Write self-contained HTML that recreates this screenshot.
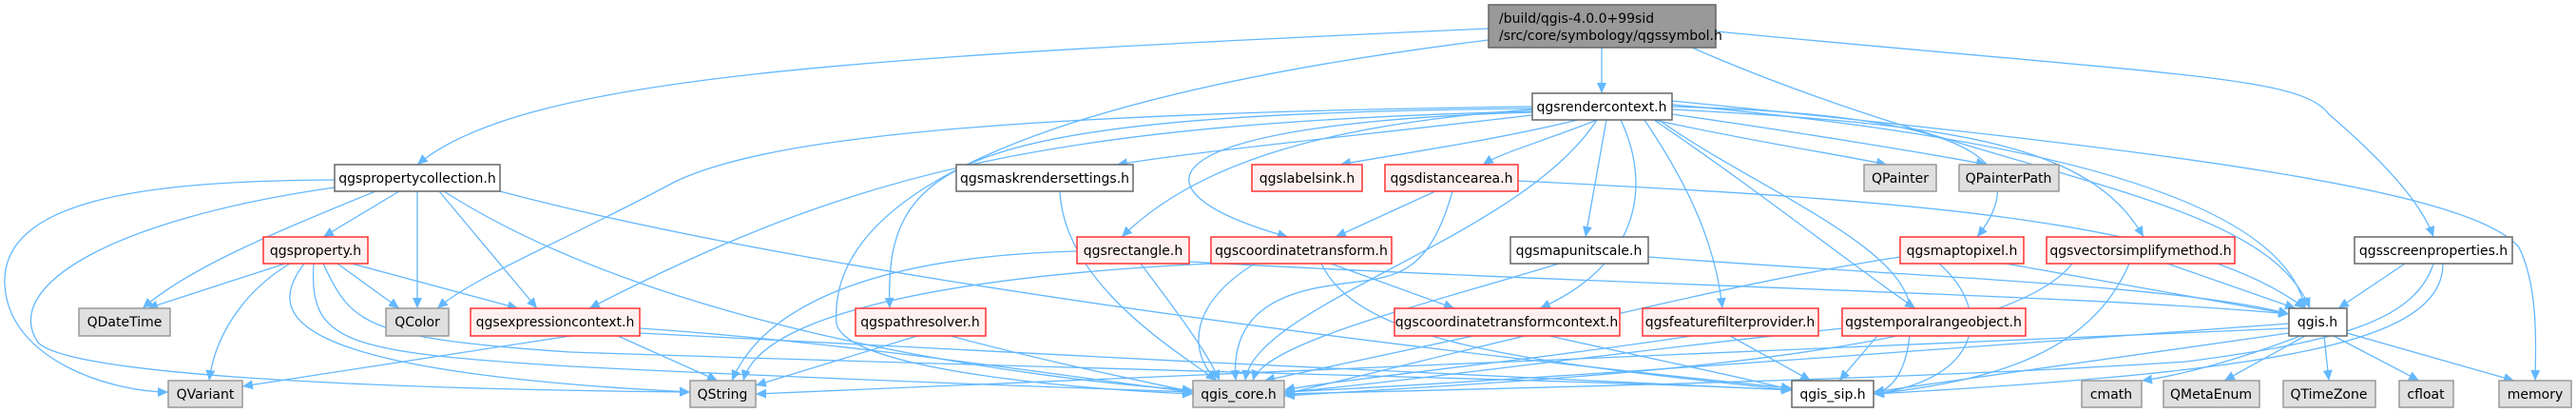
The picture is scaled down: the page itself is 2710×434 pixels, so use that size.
<!DOCTYPE html>
<html><head><meta charset="utf-8"><style>
html,body{margin:0;padding:0;background:#fff;width:2710px;height:434px;overflow:hidden}
svg{display:block}
text{font-family:"DejaVu Sans","Liberation Sans",sans-serif;font-size:14px;fill:#000}
.e path{fill:none;stroke:#63b8ff;stroke-width:1.3}
.w{fill:#fff;stroke:#666;stroke-width:1.5}
.r{fill:#fff0f0;stroke:#ff3333;stroke-width:1.5}
.g{fill:#e0e0e0;stroke:#999;stroke-width:1.5}
.m{fill:#999;stroke:#666;stroke-width:1.5}
</style></head><body>
<svg width="2710" height="434" viewBox="0 0 2710 434" xmlns="http://www.w3.org/2000/svg">
<defs><marker id="a" markerUnits="userSpaceOnUse" markerWidth="12" markerHeight="10" refX="11" refY="5" orient="auto"><path d="M0,0 L11,5 L0,10 z" fill="#63b8ff"/></marker></defs>
<g class="e" marker-end="url(#a)">
<path d="M1685 50 L1685 98" marker-end="url(#a)"/>
<path d="M1566 30 C900 60 550 80 439 173" marker-end="url(#a)"/>
<path d="M1566 42 C1100 100 870 200 880 340 C890 390 1150 410 1255 414" marker-end="url(#a)"/>
<path d="M1805 33 C2300 80 2420 80 2450 120 C2520 180 2550 220 2560 249" marker-end="url(#a)"/>
<path d="M1780 50 C2100 190 2380 200 2430 324" marker-end="url(#a)"/>
<path d="M1612 121 C1450 140 1250 160 1175 173" marker-end="url(#a)"/>
<path d="M1660 126 C1560 150 1450 165 1410 173" marker-end="url(#a)"/>
<path d="M1680 126 C1620 150 1580 160 1560 173" marker-end="url(#a)"/>
<path d="M1740 126 C1850 150 1950 165 1985 173" marker-end="url(#a)"/>
<path d="M1759 120 C1900 140 2050 165 2090 173" marker-end="url(#a)"/>
<path d="M1612 115 C1400 130 1260 170 1180 249" marker-end="url(#a)"/>
<path d="M1612 118 C1200 130 1180 200 1355 249" marker-end="url(#a)"/>
<path d="M1690 126 L1668 249" marker-end="url(#a)"/>
<path d="M1759 112 C2050 120 2150 160 2080 249" marker-end="url(#a)"/>
<path d="M1759 115 C2050 130 2200 150 2255 249" marker-end="url(#a)"/>
<path d="M1705 126 C1740 200 1720 280 1620 324" marker-end="url(#a)"/>
<path d="M1730 126 C1780 200 1805 260 1812 324" marker-end="url(#a)"/>
<path d="M1740 126 C1850 200 1950 280 2015 324" marker-end="url(#a)"/>
<path d="M1612 114 C1000 120 930 170 936 324" marker-end="url(#a)"/>
<path d="M1612 112 C1000 120 800 150 712 190 C600 250 500 290 460 324" marker-end="url(#a)"/>
<path d="M1612 117 C1100 130 900 180 620 324" marker-end="url(#a)"/>
<path d="M1680 126 C1600 250 1320 320 1310 400" marker-end="url(#a)"/>
<path d="M1745 126 C1850 200 2010 260 2010 330 C2010 390 1990 410 1971 414" marker-end="url(#a)"/>
<path d="M1759 110 C2100 140 2400 200 2425 324" marker-end="url(#a)"/>
<path d="M1759 106 C2300 160 2600 200 2650 260 C2670 300 2668 360 2667 400" marker-end="url(#a)"/>
<path d="M420 201 L340 249" marker-end="url(#a)"/>
<path d="M395 201 C300 240 200 280 150 324" marker-end="url(#a)"/>
<path d="M439 201 L439 324" marker-end="url(#a)"/>
<path d="M462 201 L565 324" marker-end="url(#a)"/>
<path d="M352 189 C150 190 0 210 5 300 C10 380 120 412 177 412" marker-end="url(#a)"/>
<path d="M352 197 C120 230 0 300 40 360 C80 400 500 410 726 412" marker-end="url(#a)"/>
<path d="M467 201 C700 350 1100 400 1255 410" marker-end="url(#a)"/>
<path d="M526 201 C900 300 1600 380 1885 408" marker-end="url(#a)"/>
<path d="M300 277 L155 324" marker-end="url(#a)"/>
<path d="M355 277 L420 324" marker-end="url(#a)"/>
<path d="M370 277 L545 324" marker-end="url(#a)"/>
<path d="M305 277 C250 310 225 360 220 400" marker-end="url(#a)"/>
<path d="M320 277 C280 330 290 390 726 412" marker-end="url(#a)"/>
<path d="M330 277 C325 360 360 370 600 385 C900 400 1200 410 1255 412" marker-end="url(#a)"/>
<path d="M340 277 C370 340 380 355 600 370 C1200 390 1700 400 1885 410" marker-end="url(#a)"/>
<path d="M600 353 L255 406" marker-end="url(#a)"/>
<path d="M650 353 L755 400" marker-end="url(#a)"/>
<path d="M673 345 C900 360 1150 400 1255 412" marker-end="url(#a)"/>
<path d="M673 350 C1000 370 1600 395 1885 410" marker-end="url(#a)"/>
<path d="M1115 201 C1120 300 1240 370 1280 400" marker-end="url(#a)"/>
<path d="M1510 201 L1405 249" marker-end="url(#a)"/>
<path d="M1528 201 C1500 300 1460 290 1400 300 C1330 310 1295 340 1300 400" marker-end="url(#a)"/>
<path d="M1597 190 C2000 210 2300 230 2425 324" marker-end="url(#a)"/>
<path d="M1133 264 C900 270 800 330 770 400" marker-end="url(#a)"/>
<path d="M1200 277 C1240 330 1270 370 1283 400" marker-end="url(#a)"/>
<path d="M1251 275 C1700 300 2200 310 2408 330" marker-end="url(#a)"/>
<path d="M1274 277 C1000 290 800 330 782 400" marker-end="url(#a)"/>
<path d="M1320 277 C1250 320 1250 370 1280 400" marker-end="url(#a)"/>
<path d="M1400 277 L1530 324" marker-end="url(#a)"/>
<path d="M1390 277 C1430 360 1600 380 1885 410" marker-end="url(#a)"/>
<path d="M1640 277 C1500 320 1330 360 1318 400" marker-end="url(#a)"/>
<path d="M1734 270 C2000 290 2300 300 2408 330" marker-end="url(#a)"/>
<path d="M965 353 L795 405" marker-end="url(#a)"/>
<path d="M1000 353 C1100 380 1200 400 1255 412" marker-end="url(#a)"/>
<path d="M1550 353 L1330 400" marker-end="url(#a)"/>
<path d="M1630 353 C1750 380 1850 400 1885 410" marker-end="url(#a)"/>
<path d="M1780 353 C1600 380 1400 400 1351 410" marker-end="url(#a)"/>
<path d="M1820 353 L1905 400" marker-end="url(#a)"/>
<path d="M1938 345 C1700 370 1450 405 1351 412" marker-end="url(#a)"/>
<path d="M1975 353 L1935 400" marker-end="url(#a)"/>
<path d="M1999 270 C1800 300 1500 380 1351 414" marker-end="url(#a)"/>
<path d="M2040 277 C2100 330 2080 400 1971 414" marker-end="url(#a)"/>
<path d="M2110 277 L2408 330" marker-end="url(#a)"/>
<path d="M2180 277 C2100 380 1600 400 1351 416" marker-end="url(#a)"/>
<path d="M2240 277 C2200 370 2100 400 1971 414" marker-end="url(#a)"/>
<path d="M2280 277 L2415 324" marker-end="url(#a)"/>
<path d="M2530 277 L2460 324" marker-end="url(#a)"/>
<path d="M2560 277 C2540 340 2450 360 2300 380 C2000 400 1500 410 1351 414" marker-end="url(#a)"/>
<path d="M2570 277 C2570 360 2400 390 1971 414" marker-end="url(#a)"/>
<path d="M2408 345 C1800 370 1200 400 795 414" marker-end="url(#a)"/>
<path d="M2408 340 C2000 370 1600 400 1351 412" marker-end="url(#a)"/>
<path d="M2408 350 C2200 380 2050 400 1971 412" marker-end="url(#a)"/>
<path d="M2420 353 C2350 380 2290 395 2253 400" marker-end="url(#a)"/>
<path d="M2425 353 L2340 400" marker-end="url(#a)"/>
<path d="M2445 353 L2450 400" marker-end="url(#a)"/>
<path d="M2455 353 L2545 400" marker-end="url(#a)"/>
<path d="M2469 350 L2645 400" marker-end="url(#a)"/>
</g>
<g>
<rect class="m" x="1566" y="5" width="239" height="45"/>
<text x="1577" y="24">/build/qgis-4.0.0+99sid</text>
<text x="1577" y="42">/src/core/symbology/qgssymbol.h</text>

<rect class="w" x="1612" y="98" width="147" height="28"/><text x="1685" y="117" text-anchor="middle">qgsrendercontext.h</text>

<rect class="w" x="352" y="173" width="174" height="28"/><text x="439" y="192" text-anchor="middle">qgspropertycollection.h</text>
<rect class="w" x="1006" y="173" width="186" height="28"/><text x="1099" y="192" text-anchor="middle">qgsmaskrendersettings.h</text>
<rect class="r" x="1317" y="173" width="116" height="28"/><text x="1375" y="192" text-anchor="middle">qgslabelsink.h</text>
<rect class="r" x="1457" y="173" width="140" height="28"/><text x="1527" y="192" text-anchor="middle">qgsdistancearea.h</text>
<rect class="g" x="1961" y="173" width="76" height="28"/><text x="1999" y="192" text-anchor="middle">QPainter</text>
<rect class="g" x="2061" y="173" width="105" height="28"/><text x="2113" y="192" text-anchor="middle">QPainterPath</text>

<rect class="r" x="277" y="249" width="110" height="28"/><text x="332" y="268" text-anchor="middle">qgsproperty.h</text>
<rect class="r" x="1133" y="249" width="118" height="28"/><text x="1192" y="268" text-anchor="middle">qgsrectangle.h</text>
<rect class="r" x="1274" y="249" width="190" height="28"/><text x="1369" y="268" text-anchor="middle">qgscoordinatetransform.h</text>
<rect class="w" x="1589" y="249" width="145" height="28"/><text x="1661" y="268" text-anchor="middle">qgsmapunitscale.h</text>
<rect class="r" x="1999" y="249" width="130" height="28"/><text x="2064" y="268" text-anchor="middle">qgsmaptopixel.h</text>
<rect class="r" x="2153" y="249" width="198" height="28"/><text x="2252" y="268" text-anchor="middle">qgsvectorsimplifymethod.h</text>
<rect class="w" x="2477" y="249" width="166" height="28"/><text x="2560" y="268" text-anchor="middle">qgsscreenproperties.h</text>

<rect class="g" x="83" y="324" width="96" height="29"/><text x="131" y="343" text-anchor="middle">QDateTime</text>
<rect class="g" x="406" y="324" width="66" height="29"/><text x="439" y="343" text-anchor="middle">QColor</text>
<rect class="r" x="495" y="324" width="178" height="29"/><text x="584" y="343" text-anchor="middle">qgsexpressioncontext.h</text>
<rect class="r" x="900" y="324" width="137" height="29"/><text x="968" y="343" text-anchor="middle">qgspathresolver.h</text>
<rect class="r" x="1467" y="324" width="237" height="29"/><text x="1585" y="343" text-anchor="middle">qgscoordinatetransformcontext.h</text>
<rect class="r" x="1728" y="324" width="185" height="29"/><text x="1820" y="343" text-anchor="middle">qgsfeaturefilterprovider.h</text>
<rect class="r" x="1938" y="324" width="193" height="29"/><text x="2034" y="343" text-anchor="middle">qgstemporalrangeobject.h</text>
<rect class="w" x="2408" y="324" width="61" height="29"/><text x="2438" y="343" text-anchor="middle">qgis.h</text>

<rect class="g" x="177" y="400" width="78" height="28"/><text x="216" y="419" text-anchor="middle">QVariant</text>
<rect class="g" x="726" y="400" width="69" height="28"/><text x="760" y="419" text-anchor="middle">QString</text>
<rect class="g" x="1255" y="400" width="96" height="28"/><text x="1303" y="419" text-anchor="middle">qgis_core.h</text>
<rect class="w" x="1885" y="400" width="86" height="28"/><text x="1928" y="419" text-anchor="middle">qgis_sip.h</text>
<rect class="g" x="2190" y="400" width="63" height="28"/><text x="2221" y="419" text-anchor="middle">cmath</text>
<rect class="g" x="2276" y="400" width="101" height="28"/><text x="2326" y="419" text-anchor="middle">QMetaEnum</text>
<rect class="g" x="2402" y="400" width="97" height="28"/><text x="2450" y="419" text-anchor="middle">QTimeZone</text>
<rect class="g" x="2524" y="400" width="57" height="28"/><text x="2552" y="419" text-anchor="middle">cfloat</text>
<rect class="g" x="2629" y="400" width="76" height="28"/><text x="2667" y="419" text-anchor="middle">memory</text>
</g>
</svg>
</body></html>
